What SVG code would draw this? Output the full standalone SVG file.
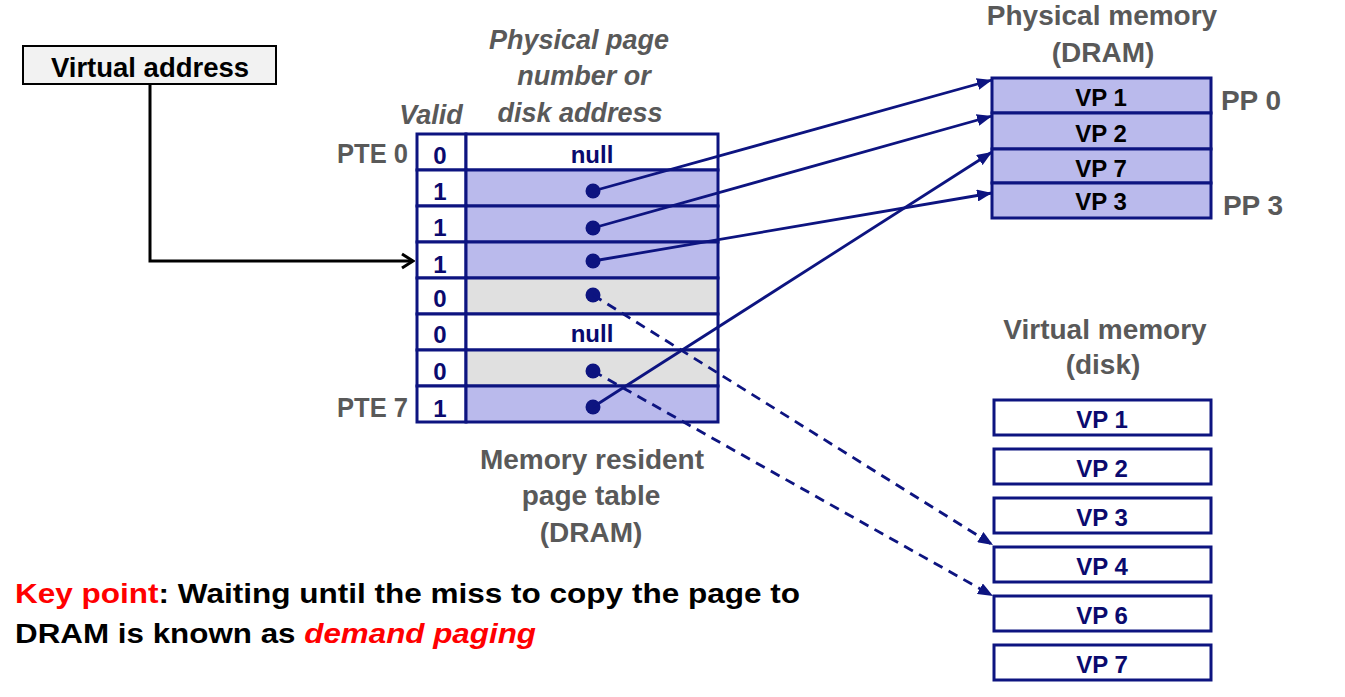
<svg xmlns="http://www.w3.org/2000/svg" width="1345" height="697" viewBox="0 0 1345 697">
<style>
text{font-family:"Liberation Sans",Arial,sans-serif;font-weight:bold}
.g{fill:#595959;font-size:28px}
.gi{fill:#595959;font-size:27px;font-style:italic}
.cell{stroke:#0d1480;stroke-width:3}
.num{fill:#0a0a6e;font-size:24px;text-anchor:middle}
.vp{fill:#000;font-size:24px;text-anchor:middle}
.vpd{fill:#0a0a6e;font-size:24px;text-anchor:middle}
.blue{stroke:#0d1480;stroke-width:2.8;fill:none}
.dash{stroke-dasharray:10 7}
.dot{fill:#0d1480}
</style>
<defs>
<marker id="ah" markerUnits="userSpaceOnUse" markerWidth="16" markerHeight="12" refX="15" refY="6" orient="auto">
<path d="M0,0 L15,6 L0,12 Z" fill="#0d1480"/>
</marker>
<marker id="bk" markerUnits="userSpaceOnUse" markerWidth="16" markerHeight="18" refX="14" refY="9" orient="auto">
<path d="M3,2 L14,9 L3,16" fill="none" stroke="#000" stroke-width="3"/>
</marker>
</defs>

<g id="virtual-address">
<rect x="23" y="46" width="253" height="38" fill="#f2f2f2" stroke="#000" stroke-width="2"/>
<text x="150" y="77" font-size="27.5" text-anchor="middle" fill="#000">Virtual address</text>
</g>

<g id="labels">
<text class="gi" x="579" y="49" text-anchor="middle">Physical page</text>
<text class="gi" x="584" y="85" text-anchor="middle">number or</text>
<text class="gi" x="580" y="122" text-anchor="middle">disk address</text>
<text class="gi" x="431" y="124" text-anchor="middle" font-size="29">Valid</text>
<text class="g" x="408" y="163" text-anchor="end" font-size="25" textLength="71" lengthAdjust="spacingAndGlyphs">PTE 0</text>
<text class="g" x="408" y="417" text-anchor="end" font-size="25" textLength="71" lengthAdjust="spacingAndGlyphs">PTE 7</text>
<text class="g" x="592" y="469" text-anchor="middle">Memory resident</text>
<text class="g" x="591" y="505" text-anchor="middle">page table</text>
<text class="g" x="591" y="542" text-anchor="middle">(DRAM)</text>
<text class="g" x="1102" y="25" text-anchor="middle" font-size="27.5">Physical memory</text>
<text class="g" x="1103" y="62" text-anchor="middle">(DRAM)</text>
<text class="g" x="1251" y="110" text-anchor="middle">PP 0</text>
<text class="g" x="1253" y="215" text-anchor="middle">PP 3</text>
<text class="g" x="1105" y="339" text-anchor="middle" font-size="28.5">Virtual memory</text>
<text class="g" x="1103" y="374" text-anchor="middle">(disk)</text>
</g>

<g id="page-table">
<rect class="cell" x="417" y="134" width="49" height="36" fill="#fff"/>
<rect class="cell" x="466" y="134" width="252" height="36" fill="#fff"/>
<rect class="cell" x="417" y="170" width="49" height="36" fill="#fff"/>
<rect class="cell" x="466" y="170" width="252" height="36" fill="#babaec"/>
<rect class="cell" x="417" y="206" width="49" height="36" fill="#fff"/>
<rect class="cell" x="466" y="206" width="252" height="36" fill="#babaec"/>
<rect class="cell" x="417" y="242" width="49" height="36" fill="#fff"/>
<rect class="cell" x="466" y="242" width="252" height="36" fill="#babaec"/>
<rect class="cell" x="417" y="278" width="49" height="36" fill="#fff"/>
<rect class="cell" x="466" y="278" width="252" height="36" fill="#e0e0e0"/>
<rect class="cell" x="417" y="314" width="49" height="36" fill="#fff"/>
<rect class="cell" x="466" y="314" width="252" height="36" fill="#fff"/>
<rect class="cell" x="417" y="350" width="49" height="36" fill="#fff"/>
<rect class="cell" x="466" y="350" width="252" height="36" fill="#e0e0e0"/>
<rect class="cell" x="417" y="386" width="49" height="36" fill="#fff"/>
<rect class="cell" x="466" y="386" width="252" height="36" fill="#babaec"/>
<text class="num" x="440" y="164">0</text>
<text class="num" x="440" y="200">1</text>
<text class="num" x="440" y="236">1</text>
<text class="num" x="440" y="273">1</text>
<text class="num" x="440" y="307">0</text>
<text class="num" x="440" y="343">0</text>
<text class="num" x="440" y="380">0</text>
<text class="num" x="440" y="417">1</text>
<text class="num" x="592" y="163">null</text>
<text class="num" x="592" y="342">null</text>
<circle class="dot" cx="593" cy="191" r="7.5"/>
<circle class="dot" cx="593" cy="228" r="7.5"/>
<circle class="dot" cx="593" cy="261" r="7.5"/>
<circle class="dot" cx="593" cy="295" r="7.5"/>
<circle class="dot" cx="593" cy="371" r="7.5"/>
<circle class="dot" cx="593" cy="407" r="7.5"/>
</g>

<g id="physical-memory">
<rect class="cell" x="992" y="78" width="219" height="35" fill="#babaec"/>
<rect class="cell" x="992" y="113" width="219" height="36" fill="#babaec"/>
<rect class="cell" x="992" y="149" width="219" height="34" fill="#babaec"/>
<rect class="cell" x="992" y="183" width="219" height="35" fill="#babaec"/>
<text class="vp" x="1101" y="106">VP 1</text>
<text class="vp" x="1101" y="142">VP 2</text>
<text class="vp" x="1101" y="177">VP 7</text>
<text class="vp" x="1101" y="210">VP 3</text>
</g>

<g id="virtual-memory">
<rect class="cell" x="994" y="400" width="217" height="35" fill="#fff"/>
<rect class="cell" x="994" y="449" width="217" height="35" fill="#fff"/>
<rect class="cell" x="994" y="498" width="217" height="35" fill="#fff"/>
<rect class="cell" x="994" y="547" width="217" height="35" fill="#fff"/>
<rect class="cell" x="994" y="596" width="217" height="35" fill="#fff"/>
<rect class="cell" x="994" y="645" width="217" height="35" fill="#fff"/>
<text class="vpd" x="1102" y="428">VP 1</text>
<text class="vpd" x="1102" y="477">VP 2</text>
<text class="vpd" x="1102" y="526">VP 3</text>
<text class="vpd" x="1102" y="575">VP 4</text>
<text class="vpd" x="1102" y="624">VP 6</text>
<text class="vpd" x="1102" y="673">VP 7</text>
</g>

<g id="connectors">
<polyline points="150,84 150,261 413,261" fill="none" stroke="#000" stroke-width="3" marker-end="url(#bk)"/>
<line class="blue" x1="593" y1="191" x2="992" y2="80" marker-end="url(#ah)"/>
<line class="blue" x1="593" y1="228" x2="992" y2="116" marker-end="url(#ah)"/>
<line class="blue" x1="593" y1="261" x2="992" y2="193" marker-end="url(#ah)"/>
<line class="blue" x1="593" y1="407" x2="992" y2="152" marker-end="url(#ah)"/>
<line class="blue dash" x1="593" y1="295" x2="993" y2="545" marker-end="url(#ah)"/>
<line class="blue dash" x1="593" y1="371" x2="993" y2="596" marker-end="url(#ah)"/>
</g>

<g id="key-point">
<text x="15" y="603" font-size="27" fill="#000" textLength="785" lengthAdjust="spacingAndGlyphs"><tspan fill="#ff0000">Key point</tspan>: Waiting until the miss to copy the page to</text>
<text x="15" y="643" font-size="27" fill="#000" textLength="521" lengthAdjust="spacingAndGlyphs">DRAM is known as <tspan fill="#ff0000" font-style="italic">demand paging</tspan></text>
</g>
</svg>
